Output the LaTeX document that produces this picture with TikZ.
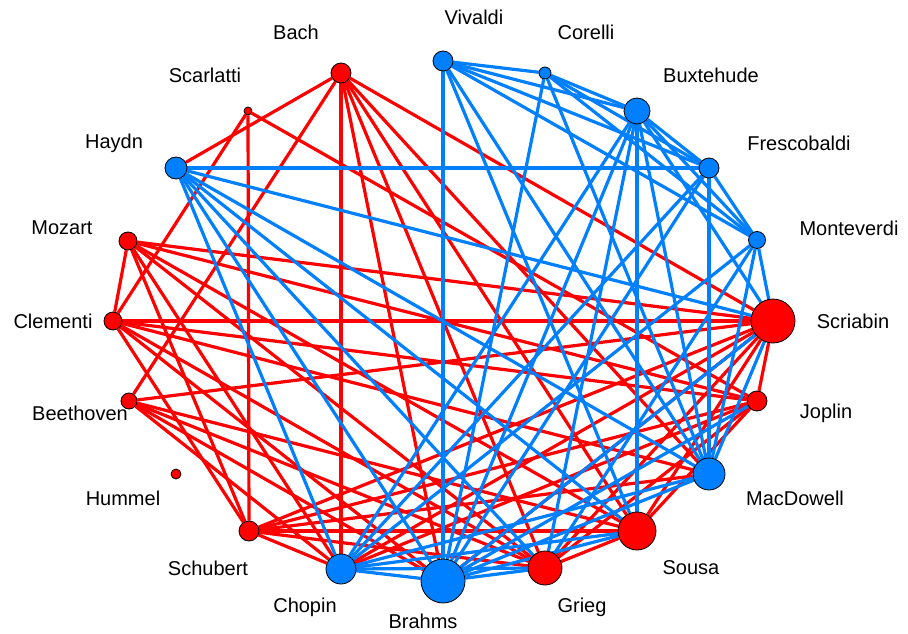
\documentclass[tikz,border=0pt]{standalone}
\usepackage{fontspec}
\setmainfont{Liberation Sans}
\usetikzlibrary{backgrounds}
\definecolor{cred}{RGB}{255,0,0}
\definecolor{cblue}{RGB}{0,128,255}

\begin{document}
\begin{tikzpicture}[x=1pt,y=-1pt,font=\fontsize{20}{24}\selectfont,
  vtx/.style={circle,draw=black,line width=0.8pt,inner sep=0pt},
  redge/.style={cred,line width=3.2pt},
  bedge/.style={cblue,line width=3.2pt}]
  \useasboundingbox (0,0) rectangle (908,634);
  % composers: name/x/y/size/colour/label x/label y
  \foreach \name/\x/\y/\d/\c/\lx/\ly in {
    Bach/341/73/20/cred/296/32, Vivaldi/443/61/20/cblue/474/17,
    Corelli/545/73/12/cblue/586/32, Buxtehude/637/111/26/cblue/711/75,
    Frescobaldi/709/168/20/cblue/799/143, Monteverdi/757/240/17/cblue/849/228,
    Scriabin/773/321/44/cred/853/321, Joplin/757/401/20/cred/826/413,
    MacDowell/709/474/32/cblue/795/498, Sousa/637/531/38/cred/691/568,
    Grieg/545/568/34/cred/582/607, Brahms/443/581/44/cblue/423/621,
    Chopin/341/569/30/cblue/305/607, Schubert/249/531/20/cred/208/568,
    Hummel/176/474/10/cred/123/498, Beethoven/129/401/16/cred/80/413,
    Clementi/113/321/18/cred/53/321, Mozart/128/241/18/cred/62/228,
    Haydn/176/168/22/cblue/114/143, Scarlatti/248/111/8/cred/205/75}{
    \node[vtx,fill=\c,minimum size=\d pt] (\name) at (\x,\y) {};
    \node (l\name) at (\lx,\ly) {\name};
  }
  \begin{scope}[on background layer]
    % red links
    \foreach \a/\b in {Bach/Haydn, Bach/Beethoven, Bach/Chopin, Bach/Brahms, Bach/Grieg,
      Bach/Sousa, Bach/MacDowell, Bach/Scriabin, Scarlatti/Schubert, Scarlatti/Clementi,
      Scarlatti/Joplin, Mozart/Clementi, Mozart/Scriabin, Mozart/Joplin, Mozart/Sousa,
      Mozart/Grieg, Mozart/Chopin, Mozart/Schubert, Clementi/Scriabin, Clementi/Joplin,
      Clementi/MacDowell, Clementi/Grieg, Clementi/Brahms, Clementi/Schubert,
      Beethoven/Scriabin, Beethoven/Sousa, Beethoven/Grieg, Beethoven/Brahms,
      Beethoven/Chopin, Schubert/Scriabin, Schubert/Joplin, Schubert/MacDowell,
      Schubert/Sousa, Schubert/Grieg, Schubert/Chopin, Scriabin/Joplin, Scriabin/Sousa,
      Scriabin/Grieg, Scriabin/Brahms, Scriabin/Chopin, Joplin/Sousa, Joplin/Grieg,
      Joplin/Chopin, Sousa/Grieg}
      \draw[redge] (\a) -- (\b);
    % blue links
    \foreach \a/\b in {Vivaldi/Corelli, Vivaldi/Buxtehude, Vivaldi/Frescobaldi,
      Vivaldi/Monteverdi, Vivaldi/Brahms, Vivaldi/Sousa, Vivaldi/MacDowell,
      Corelli/Buxtehude, Corelli/Frescobaldi, Corelli/Monteverdi, Corelli/Brahms,
      Corelli/MacDowell, Buxtehude/Frescobaldi, Buxtehude/Monteverdi, Buxtehude/Sousa,
      Buxtehude/Chopin, Buxtehude/Brahms, Buxtehude/Grieg, Buxtehude/MacDowell,
      Buxtehude/Scriabin, Frescobaldi/Haydn, Frescobaldi/Monteverdi, Frescobaldi/MacDowell,
      Frescobaldi/Brahms, Frescobaldi/Chopin, Monteverdi/Scriabin, Monteverdi/MacDowell,
      Monteverdi/Chopin, Monteverdi/Grieg, Haydn/Scriabin, Haydn/MacDowell, Haydn/Sousa,
      Haydn/Grieg, Haydn/Brahms, Haydn/Chopin, Chopin/Brahms, Chopin/Grieg, Chopin/Sousa,
      Chopin/MacDowell, Brahms/Grieg, Brahms/Sousa, Brahms/MacDowell, Brahms/Joplin,
      Brahms/Scriabin, MacDowell/Scriabin}
      \draw[bedge] (\a) -- (\b);
  \end{scope}
\end{tikzpicture}
\end{document}
